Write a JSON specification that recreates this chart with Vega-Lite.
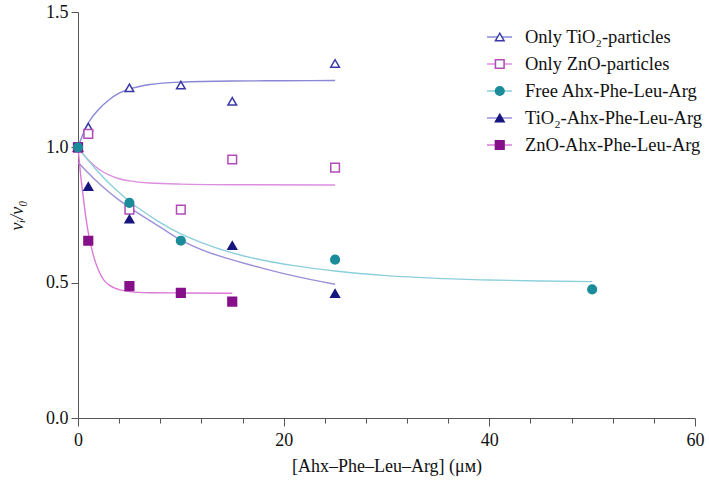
{
  "$schema": "https://vega.github.io/schema/vega-lite/v6.json",
  "width": 617,
  "height": 406,
  "autosize": {"type": "none"},
  "padding": {"left": 78, "top": 12, "right": 14, "bottom": 63},
  "background": "white",
  "config": {
    "view": {"stroke": null},
    "font": "Liberation Serif",
    "axis": {"grid": false, "domainColor": "#555555", "tickColor": "#555555", "labelColor": "#111111", "titleColor": "#111111", "labelFont": "Liberation Serif", "titleFont": "Liberation Serif", "labelFontSize": 18, "titleFontSize": 18, "titleFontWeight": "normal"}
  },
  "datasets": {
    "points": [
      {"series": "Only TiO₂-particles", "x": 0, "v": 1.0},
      {"series": "Only TiO₂-particles", "x": 1, "v": 1.075},
      {"series": "Only TiO₂-particles", "x": 5, "v": 1.22},
      {"series": "Only TiO₂-particles", "x": 10, "v": 1.23},
      {"series": "Only TiO₂-particles", "x": 15, "v": 1.17},
      {"series": "Only TiO₂-particles", "x": 25, "v": 1.31},
      {"series": "Only ZnO-particles", "x": 0, "v": 1.0},
      {"series": "Only ZnO-particles", "x": 1, "v": 1.05},
      {"series": "Only ZnO-particles", "x": 5, "v": 0.77},
      {"series": "Only ZnO-particles", "x": 10, "v": 0.77},
      {"series": "Only ZnO-particles", "x": 15, "v": 0.955},
      {"series": "Only ZnO-particles", "x": 25, "v": 0.925},
      {"series": "TiO₂-Ahx-Phe-Leu-Arg", "x": 0, "v": 1.0},
      {"series": "TiO₂-Ahx-Phe-Leu-Arg", "x": 1, "v": 0.855},
      {"series": "TiO₂-Ahx-Phe-Leu-Arg", "x": 5, "v": 0.735},
      {"series": "TiO₂-Ahx-Phe-Leu-Arg", "x": 15, "v": 0.637},
      {"series": "TiO₂-Ahx-Phe-Leu-Arg", "x": 25, "v": 0.46},
      {"series": "ZnO-Ahx-Phe-Leu-Arg", "x": 0, "v": 1.0},
      {"series": "ZnO-Ahx-Phe-Leu-Arg", "x": 1, "v": 0.655},
      {"series": "ZnO-Ahx-Phe-Leu-Arg", "x": 5, "v": 0.487},
      {"series": "ZnO-Ahx-Phe-Leu-Arg", "x": 10, "v": 0.462},
      {"series": "ZnO-Ahx-Phe-Leu-Arg", "x": 15, "v": 0.43},
      {"series": "Free Ahx-Phe-Leu-Arg", "x": 0, "v": 1.0},
      {"series": "Free Ahx-Phe-Leu-Arg", "x": 5, "v": 0.795},
      {"series": "Free Ahx-Phe-Leu-Arg", "x": 10, "v": 0.655},
      {"series": "Free Ahx-Phe-Leu-Arg", "x": 25, "v": 0.585},
      {"series": "Free Ahx-Phe-Leu-Arg", "x": 50, "v": 0.475}
    ],
    "curves": [
      {"series": "Only TiO₂-particles", "x": 0, "v": 1.0},
      {"series": "Only TiO₂-particles", "x": 0.5, "v": 1.05},
      {"series": "Only TiO₂-particles", "x": 1, "v": 1.09},
      {"series": "Only TiO₂-particles", "x": 2, "v": 1.14},
      {"series": "Only TiO₂-particles", "x": 3, "v": 1.175},
      {"series": "Only TiO₂-particles", "x": 4, "v": 1.2},
      {"series": "Only TiO₂-particles", "x": 5, "v": 1.215},
      {"series": "Only TiO₂-particles", "x": 7, "v": 1.232},
      {"series": "Only TiO₂-particles", "x": 10, "v": 1.241},
      {"series": "Only TiO₂-particles", "x": 15, "v": 1.245},
      {"series": "Only TiO₂-particles", "x": 20, "v": 1.246},
      {"series": "Only TiO₂-particles", "x": 25, "v": 1.247},
      {"series": "Only ZnO-particles", "x": 0, "v": 1.0},
      {"series": "Only ZnO-particles", "x": 0.5, "v": 0.975},
      {"series": "Only ZnO-particles", "x": 1, "v": 0.953},
      {"series": "Only ZnO-particles", "x": 2, "v": 0.92},
      {"series": "Only ZnO-particles", "x": 3, "v": 0.898},
      {"series": "Only ZnO-particles", "x": 4, "v": 0.884},
      {"series": "Only ZnO-particles", "x": 5, "v": 0.876},
      {"series": "Only ZnO-particles", "x": 7, "v": 0.868},
      {"series": "Only ZnO-particles", "x": 10, "v": 0.864},
      {"series": "Only ZnO-particles", "x": 15, "v": 0.862},
      {"series": "Only ZnO-particles", "x": 25, "v": 0.861},
      {"series": "Free Ahx-Phe-Leu-Arg", "x": 0, "v": 1.0},
      {"series": "Free Ahx-Phe-Leu-Arg", "x": 1, "v": 0.952},
      {"series": "Free Ahx-Phe-Leu-Arg", "x": 2, "v": 0.908},
      {"series": "Free Ahx-Phe-Leu-Arg", "x": 3, "v": 0.868},
      {"series": "Free Ahx-Phe-Leu-Arg", "x": 4, "v": 0.833},
      {"series": "Free Ahx-Phe-Leu-Arg", "x": 5, "v": 0.8},
      {"series": "Free Ahx-Phe-Leu-Arg", "x": 6, "v": 0.772},
      {"series": "Free Ahx-Phe-Leu-Arg", "x": 8, "v": 0.722},
      {"series": "Free Ahx-Phe-Leu-Arg", "x": 10, "v": 0.68},
      {"series": "Free Ahx-Phe-Leu-Arg", "x": 12, "v": 0.648},
      {"series": "Free Ahx-Phe-Leu-Arg", "x": 15, "v": 0.61},
      {"series": "Free Ahx-Phe-Leu-Arg", "x": 18, "v": 0.583},
      {"series": "Free Ahx-Phe-Leu-Arg", "x": 21, "v": 0.563},
      {"series": "Free Ahx-Phe-Leu-Arg", "x": 25, "v": 0.543},
      {"series": "Free Ahx-Phe-Leu-Arg", "x": 30, "v": 0.526},
      {"series": "Free Ahx-Phe-Leu-Arg", "x": 35, "v": 0.516},
      {"series": "Free Ahx-Phe-Leu-Arg", "x": 40, "v": 0.51},
      {"series": "Free Ahx-Phe-Leu-Arg", "x": 45, "v": 0.506},
      {"series": "Free Ahx-Phe-Leu-Arg", "x": 50, "v": 0.504},
      {"series": "TiO₂-Ahx-Phe-Leu-Arg", "x": 0, "v": 0.945},
      {"series": "TiO₂-Ahx-Phe-Leu-Arg", "x": 1, "v": 0.905},
      {"series": "TiO₂-Ahx-Phe-Leu-Arg", "x": 2, "v": 0.868},
      {"series": "TiO₂-Ahx-Phe-Leu-Arg", "x": 3, "v": 0.835},
      {"series": "TiO₂-Ahx-Phe-Leu-Arg", "x": 4, "v": 0.805},
      {"series": "TiO₂-Ahx-Phe-Leu-Arg", "x": 5, "v": 0.778},
      {"series": "TiO₂-Ahx-Phe-Leu-Arg", "x": 6, "v": 0.753},
      {"series": "TiO₂-Ahx-Phe-Leu-Arg", "x": 8, "v": 0.705},
      {"series": "TiO₂-Ahx-Phe-Leu-Arg", "x": 10, "v": 0.657},
      {"series": "TiO₂-Ahx-Phe-Leu-Arg", "x": 12, "v": 0.622},
      {"series": "TiO₂-Ahx-Phe-Leu-Arg", "x": 15, "v": 0.584},
      {"series": "TiO₂-Ahx-Phe-Leu-Arg", "x": 18, "v": 0.553},
      {"series": "TiO₂-Ahx-Phe-Leu-Arg", "x": 21, "v": 0.525},
      {"series": "TiO₂-Ahx-Phe-Leu-Arg", "x": 25, "v": 0.494},
      {"series": "ZnO-Ahx-Phe-Leu-Arg", "x": 0, "v": 1.0},
      {"series": "ZnO-Ahx-Phe-Leu-Arg", "x": 0.25, "v": 0.9},
      {"series": "ZnO-Ahx-Phe-Leu-Arg", "x": 0.5, "v": 0.82},
      {"series": "ZnO-Ahx-Phe-Leu-Arg", "x": 0.75, "v": 0.745},
      {"series": "ZnO-Ahx-Phe-Leu-Arg", "x": 1, "v": 0.685},
      {"series": "ZnO-Ahx-Phe-Leu-Arg", "x": 1.5, "v": 0.6},
      {"series": "ZnO-Ahx-Phe-Leu-Arg", "x": 2, "v": 0.545},
      {"series": "ZnO-Ahx-Phe-Leu-Arg", "x": 2.5, "v": 0.51},
      {"series": "ZnO-Ahx-Phe-Leu-Arg", "x": 3, "v": 0.492},
      {"series": "ZnO-Ahx-Phe-Leu-Arg", "x": 4, "v": 0.474},
      {"series": "ZnO-Ahx-Phe-Leu-Arg", "x": 5, "v": 0.467},
      {"series": "ZnO-Ahx-Phe-Leu-Arg", "x": 7, "v": 0.463},
      {"series": "ZnO-Ahx-Phe-Leu-Arg", "x": 10, "v": 0.462},
      {"series": "ZnO-Ahx-Phe-Leu-Arg", "x": 15, "v": 0.461}
    ]
  },
  "layer": [
    {
      "data": {"name": "curves"},
      "mark": {"type": "line", "interpolate": "monotone", "strokeWidth": 1.4},
      "encoding": {
        "x": {"field": "x", "type": "quantitative", "scale": {"domain": [0, 60], "nice": false},
          "axis": {"orient": "bottom", "values": [0, 2, 4, 6, 8, 10, 12, 14, 16, 18, 20, 22, 24, 26, 28, 30, 32, 34, 36, 38, 40, 42, 44, 46, 48, 50, 52, 54, 56, 58, 60],
            "labelExpr": "datum.value % 20 === 0 ? datum.label : ''",
            "tickSize": {"condition": {"test": "datum.value % 20 === 0", "value": 8}, "value": 5},
            "labelPadding": 5, "labelOverlap": false, "title": "[Ahx–Phe–Leu–Arg] (μᴍ)", "titlePadding": 8, "labelFlush": false}},
        "y": {"field": "v", "type": "quantitative", "scale": {"domain": [0, 1.5], "nice": false},
          "axis": {"values": [0, 0.5, 1, 1.5], "format": ".1f", "tickSize": 7, "labelPadding": 3, "title": "vᵢ/v₀", "titleFontStyle": "italic", "titlePadding": 19, "labelFlush": false}},
        "stroke": {"field": "series", "type": "nominal",
          "sort": ["Only TiO₂-particles", "Only ZnO-particles", "Free Ahx-Phe-Leu-Arg", "TiO₂-Ahx-Phe-Leu-Arg", "ZnO-Ahx-Phe-Leu-Arg"],
          "scale": {"range": ["#8888d6", "#dc8ee0", "#8ccfdc", "#9c90da", "#dc7ad8"]},
          "legend": {"orient": "none", "legendX": 408, "legendY": 15, "title": null, "padding": 0, "symbolType": "stroke", "symbolSize": 625, "symbolStrokeWidth": 1.5, "symbolOffset": 0, "labelOffset": 12, "labelFontSize": 18.5, "labelFont": "Liberation Serif", "labelColor": "#111111", "clipHeight": 20, "rowPadding": 7, "labelLimit": 300}}
      }
    },
    {
      "data": {"name": "points"},
      "mark": {"type": "point", "filled": false, "size": 75, "strokeWidth": 1.5, "opacity": 1},
      "encoding": {
        "x": {"field": "x", "type": "quantitative"},
        "y": {"field": "v", "type": "quantitative"},
        "color": {"field": "series", "type": "nominal",
          "scale": {"domain": ["Only TiO₂-particles", "Only ZnO-particles", "Free Ahx-Phe-Leu-Arg", "TiO₂-Ahx-Phe-Leu-Arg", "ZnO-Ahx-Phe-Leu-Arg"], "range": ["#3a3aa6", "#b04cb8", "#1a8c9a", "#16167e", "#86108a"]},
          "legend": {"orient": "none", "legendX": 408, "legendY": 15, "title": null, "padding": 0, "symbolSize": 75, "symbolStrokeWidth": 1.5, "symbolOffset": 4.5, "labelOffset": 21, "labelFontSize": 18.5, "labelFont": "Liberation Serif", "labelExpr": "''", "clipHeight": 20, "rowPadding": 7, "labelLimit": 300, "symbolOpacity": 1}},
        "fill": {"field": "series", "type": "nominal",
          "scale": {"domain": ["Only TiO₂-particles", "Only ZnO-particles", "Free Ahx-Phe-Leu-Arg", "TiO₂-Ahx-Phe-Leu-Arg", "ZnO-Ahx-Phe-Leu-Arg"], "range": ["#ffffff", "#ffffff", "#1a8c9a", "#16167e", "#86108a"]},
          "legend": {"orient": "none", "legendX": 408, "legendY": 15, "title": null, "padding": 0, "symbolSize": 75, "symbolStrokeWidth": 1.5, "symbolOffset": 4.5, "labelOffset": 21, "labelFontSize": 18.5, "labelFont": "Liberation Serif", "labelExpr": "''", "clipHeight": 20, "rowPadding": 7, "labelLimit": 300, "symbolOpacity": 1}},
        "shape": {"field": "series", "type": "nominal",
          "scale": {"domain": ["Only TiO₂-particles", "Only ZnO-particles", "Free Ahx-Phe-Leu-Arg", "TiO₂-Ahx-Phe-Leu-Arg", "ZnO-Ahx-Phe-Leu-Arg"], "range": ["triangle-up", "square", "circle", "triangle-up", "square"]},
          "legend": {"orient": "none", "legendX": 408, "legendY": 15, "title": null, "padding": 0, "symbolSize": 75, "symbolStrokeWidth": 1.5, "symbolOffset": 4.5, "labelOffset": 21, "labelFontSize": 18.5, "labelFont": "Liberation Serif", "labelExpr": "''", "clipHeight": 20, "rowPadding": 7, "labelLimit": 300, "symbolOpacity": 1}}
      }
    }
  ]
}
